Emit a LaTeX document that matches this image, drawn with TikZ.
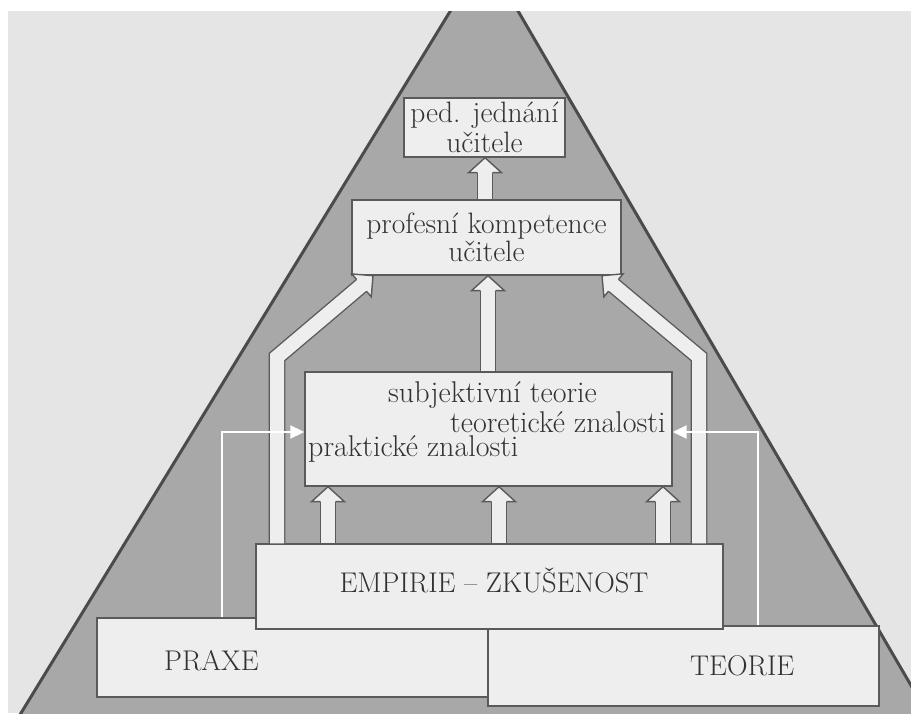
\documentclass[tikz,border=0pt]{standalone}
\usetikzlibrary{calc,arrows.meta}
\definecolor{paper}{RGB}{229,229,229}
\definecolor{tri}{RGB}{168,168,168}
\definecolor{triedge}{RGB}{75,75,75}
\definecolor{boxfill}{RGB}{238,238,238}
\definecolor{boxline}{RGB}{90,90,90}
\definecolor{txt}{RGB}{50,50,50}
\newcommand\headat[3]{%
  \fill[boxfill] ($(#1)!#3!90:(#2)$) -- (#2) -- ($(#1)!#3!-90:(#2)$) -- cycle;
  \draw[headline] ($(#1)!7.7pt!90:(#2)$) -- ($(#1)!#3!90:(#2)$) -- (#2) -- ($(#1)!#3!-90:(#2)$) -- ($(#1)!7.7pt!-90:(#2)$);}
\begin{document}
\begin{tikzpicture}[x=1pt,y=1pt,
  box/.style={draw=boxline, fill=boxfill, line width=1.4pt, inner sep=0pt, align=center,
    text=txt, font=\fontsize{29.5}{29.5}\selectfont},
  lbl/.style={inner sep=0pt, text=txt, font=\fontsize{30}{29.5}\selectfont},
  caps/.style={font=\fontsize{28.5}{30}\selectfont},
  shaft/.style={draw=boxline, line width=1.4pt, double=boxfill, double distance=14pt, line join=miter},
  headline/.style={draw=boxline, line width=1.4pt, line join=miter},
  thin/.style={draw=white, line width=2pt, line join=miter, -{Triangle[length=14pt,width=13pt]}}
]
\useasboundingbox (0,0) rectangle (911,713);
\clip (0,0) rectangle (911,713);
\fill[paper] (0,0) rectangle (911,713);
\draw[triedge, line width=3pt, fill=tri] (18,-5) -- (485,758.7) -- (930,-5);
\fill[white] (0,702) rectangle (911,713);
\fill[white] (0,0) rectangle (8,713);

% boxes
\node[box, minimum width=161pt, minimum height=59pt] (ped) at (484.5,585.5) {ped. jednání\\učitele};
\node[box, minimum width=269pt, minimum height=75pt] (prof) at (486.5,475.5) {profesní kompetence\\[-1pt]učitele};
\node[box, minimum width=367pt, minimum height=114pt] (subj) at (488.5,284) {};
\node[lbl, anchor=base west] (st) at (388,310) {subjektivní teorie};
\node[lbl, anchor=base west] (tz) at (450,280) {teoretické znalosti};
\node[lbl, anchor=base west] (pz) at (308,256) {praktické znalosti};
\node[box, minimum width=391pt, minimum height=79pt] (praxe) at (292.5,55.5) {};
\node[box, minimum width=391pt, minimum height=80pt] (teorie) at (683.5,47) {};
\node[box, minimum width=467pt, minimum height=85pt] (emp) at (489.5,126.5) {};
\node[lbl, caps, anchor=base] (emptxt) at (494,121) {EMPIRIE – ZKUŠENOST};
\node[lbl, caps, anchor=base west] (praxetxt) at (164,43) {PRAXE};
\node[lbl, caps, anchor=base west] (teorietxt) at (690,38) {TEORIE};

% straight block arrows
\foreach \n/\x/\f/\t in {a/485/prof/ped, b/488/subj/prof, c/328/emp/subj, d/499/emp/subj, e/663/emp/subj}{
  \coordinate (s\n) at (\x,0 |- \f.north);
  \coordinate (t\n) at (\x,0 |- \t.south);
  \coordinate (p\n) at ($(t\n)+(0,-15)$);
  \draw[shaft] (s\n) -- ($(p\n)!1pt!(t\n)$);
  \headat{p\n}{t\n}{16.5pt}
}

% bent block arrows
\coordinate (sl) at (277,0 |- emp.north);
\coordinate (bl) at (277,356);
\coordinate (tl) at (373,0 |- prof.south);
\coordinate (pl) at ($(tl)!15pt!(bl)$);
\draw[shaft] (sl) -- (bl) -- ($(pl)!1pt!(tl)$);
\headat{pl}{tl}{15pt}

\coordinate (sr) at (699,0 |- emp.north);
\coordinate (br) at (699,356);
\coordinate (tr) at (602,0 |- prof.south);
\coordinate (pr) at ($(tr)!15pt!(br)$);
\draw[shaft] (sr) -- (br) -- ($(pr)!1pt!(tr)$);
\headat{pr}{tr}{15pt}

% thin arrows
\coordinate (xl) at (222,0 |- praxe.north);
\coordinate (kl) at (222,281);
\draw[thin] (xl) -- (kl) -- (subj.west |- kl);
\coordinate (xr) at (758,0 |- teorie.north);
\coordinate (kr) at (758,281);
\draw[thin] (xr) -- (kr) -- (subj.east |- kr);
\end{tikzpicture}
\end{document}
